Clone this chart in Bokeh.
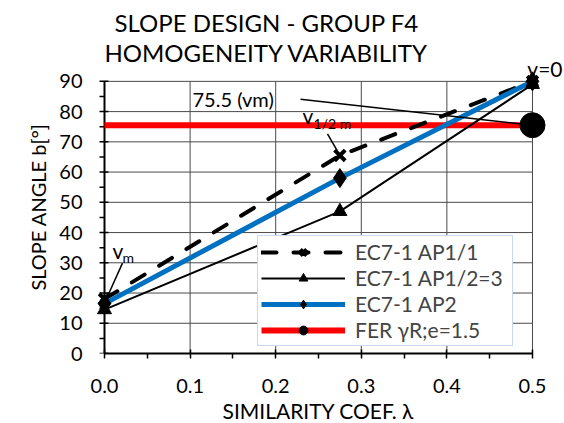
from bokeh.plotting import figure
from bokeh.models import Label, Legend, LegendItem, FixedTicker, Range1d, Title
from bokeh.embed import file_html
from bokeh.resources import INLINE

# ---- data ----
lam = [0.0, 0.275, 0.5]
ap11 = [18.0, 65.5, 90.0]
ap12_3 = [14.5, 47.0, 89.0]
ap2 = [16.5, 58.0, 90.0]
fer_x = [0.0, 0.5]
fer_y = [75.5, 75.5]
fer_pt_x = [0.5]
fer_pt_y = [75.5]

x_ticks = [0.0, 0.1, 0.2, 0.3, 0.4, 0.5]
x_tick_labels = ["0.0", "0.1", "0.2", "0.3", "0.4", "0.5"]
y_ticks = [0, 10, 20, 30, 40, 50, 60, 70, 80, 90]
y_tick_labels = [str(v) for v in y_ticks]

series_names = ["EC7-1 AP1/1", "EC7-1 AP1/2=3", "EC7-1 AP2", "FER \u03b3R;e=1.5"]
title_lines = ["SLOPE DESIGN - GROUP F4", "HOMOGENEITY VARIABILITY"]
x_title = "SIMILARITY COEF. \u03bb"
y_title = "SLOPE ANGLE b[\u00b0]"

FONT = "Lato"
PX = 1.0 / 856.0  # data units of one pixel along x (for tick marks)

p = figure(width=564, height=423, output_backend="svg", toolbar_location=None,
           x_range=Range1d(-0.01168, 0.5374), y_range=Range1d(0, 96.9),
           min_border_left=94, min_border_right=0, min_border_top=58, min_border_bottom=70)
p.outline_line_color = None
p.xgrid.visible = False
p.ygrid.visible = False
p.background_fill_color = "white"
p.border_fill_color = "white"

# titles (first added sits nearest the plot)
p.add_layout(Title(text=title_lines[1], align="left", offset=10, standoff=-12,
                   text_font=FONT, text_font_size="24px", text_font_style="normal",
                   text_color="black"), "above")
p.add_layout(Title(text=title_lines[0], align="left", offset=20, standoff=10,
                   text_font=FONT, text_font_size="24px", text_font_style="normal",
                   text_color="black"), "above")

# grid drawn from tick lists
p.segment(x0=[x_ticks[0]] * (len(y_ticks) - 1), x1=[x_ticks[-1]] * (len(y_ticks) - 1),
          y0=y_ticks[1:], y1=y_ticks[1:], line_color="#4a4a4a", line_width=1)
p.segment(x0=x_ticks[1:], x1=x_ticks[1:], y0=[y_ticks[0]] * (len(x_ticks) - 1),
          y1=[y_ticks[-1]] * (len(x_ticks) - 1), line_color="#4a4a4a", line_width=1)

# axes
x_minor = [(a + b) / 2 for a, b in zip(x_ticks[:-1], x_ticks[1:])]
y_minor = [(a + b) / 2 for a, b in zip(y_ticks[:-1], y_ticks[1:])]
p.xaxis.ticker = FixedTicker(ticks=x_ticks, minor_ticks=x_minor)
p.yaxis.ticker = FixedTicker(ticks=y_ticks, minor_ticks=[])
p.xaxis.major_label_overrides = dict(zip(x_ticks, x_tick_labels))
p.yaxis.major_label_overrides = dict(zip(y_ticks, y_tick_labels))
p.xaxis.bounds = (x_ticks[0], x_ticks[-1])
for ax in (p.xaxis, p.yaxis):
    ax.axis_line_width = 2
    ax.axis_line_color = "black"
    ax.major_tick_line_width = 1.5
    ax.minor_tick_line_width = 1.5
    ax.major_tick_line_color = "black"
    ax.minor_tick_line_color = "black"
    ax.major_tick_in = 4
    ax.major_tick_out = 5
    ax.minor_tick_in = 0
    ax.minor_tick_out = 5
    ax.major_label_text_font = FONT
    ax.major_label_text_font_size = "20px"
    ax.major_label_text_color = "black"
    ax.axis_label_text_font = FONT
    ax.axis_label_text_font_size = "20px"
    ax.axis_label_text_font_style = "normal"
    ax.axis_label_text_color = "black"
p.xaxis.major_label_standoff = 20
p.yaxis.axis_label = y_title
# x axis title placed as a bottom title so it can be centred like the reference
p.add_layout(Title(text=x_title, align="left", offset=128, standoff=1,
                   text_font=FONT, text_font_size="21px", text_font_style="normal",
                   text_color="black"), "below")
# y axis: labels from the axis, line and ticks drawn at x = 0 below
p.yaxis.axis_line_color = None
p.yaxis.major_tick_line_color = None
p.yaxis.minor_tick_line_color = None
p.yaxis.major_tick_in = 0
p.yaxis.major_tick_out = 0
p.yaxis.minor_tick_out = 0
p.yaxis.major_label_standoff = 12
p.yaxis.axis_label_standoff = 6

x0 = x_ticks[0]
p.segment(x0=[x0], x1=[x0], y0=[y_ticks[0]], y1=[y_ticks[-1]], line_color="black", line_width=2)
p.segment(x0=[x0 - 5 * PX] * len(y_ticks), x1=[x0 + 4 * PX] * len(y_ticks),
          y0=y_ticks, y1=y_ticks, line_color="black", line_width=1.5)
p.segment(x0=[x0 - 5 * PX] * len(y_minor), x1=[x0] * len(y_minor),
          y0=y_minor, y1=y_minor, line_color="black", line_width=1.5)

# series
r_fer = p.line(fer_x, fer_y, line_color="#ff0000", line_width=6)
r11 = p.line(lam, ap11, line_color="black", line_width=4, line_dash="15 17", line_cap="round")
r12 = p.line(lam, ap12_3, line_color="black", line_width=2)
r2 = p.line(lam, ap2, line_color="#0070c0", line_width=5)
s12 = p.scatter(lam, ap12_3, marker="triangle", size=14, fill_color="black", line_color="black")
s2 = p.scatter(lam, ap2, marker="diamond", size=19, fill_color="black", line_color="black")
s11 = p.scatter(lam, ap11, marker="x", size=15, line_color="black", line_width=4)

# annotation leader lines
p.segment(x0=[0.229, 0.2605, 0.021], y0=[84.1, 72.6, 29.9],
          x1=[fer_pt_x[0], 0.272, 0.0023], y1=[fer_pt_y[0], 67.0, 18.1],
          line_color="black", line_width=1.5)
s_fer = p.scatter(fer_pt_x, fer_pt_y, marker="circle", size=25, fill_color="black", line_color="black")

legend = Legend(items=[
    LegendItem(label=series_names[0], renderers=[r11, s11]),
    LegendItem(label=series_names[1], renderers=[r12, s12]),
    LegendItem(label=series_names[2], renderers=[r2, s2]),
    LegendItem(label=series_names[3], renderers=[r_fer, s_fer]),
], location=(163, 7), glyph_width=84, glyph_height=22, label_height=22, label_standoff=10,
   label_width=154, spacing=1, padding=3, margin=0,
   label_text_font=FONT, label_text_font_size="21px",
   border_line_color="#8eb4e3", border_line_width=1,
   background_fill_color="white", background_fill_alpha=1)
p.add_layout(legend)

def lab(x, y, t, size, align="left"):
    p.add_layout(Label(x=x, y=y, text=t, text_font=FONT, text_font_size=size,
                       text_color="black", text_baseline="middle", text_align=align))

lab(0.1028, 84.1, "75.5 (vm)", "20px")
lab(0.2313, 78.8, "v", "21px")
lab(0.2442, 76.2, "1/2 m", "14px")
lab(0.0093, 34.2, "v", "21px")
lab(0.021, 31.9, "m", "14px")
lab(0.494, 94.3, "v=0", "21px")

open("out.html", "w").write(file_html(p, INLINE))
